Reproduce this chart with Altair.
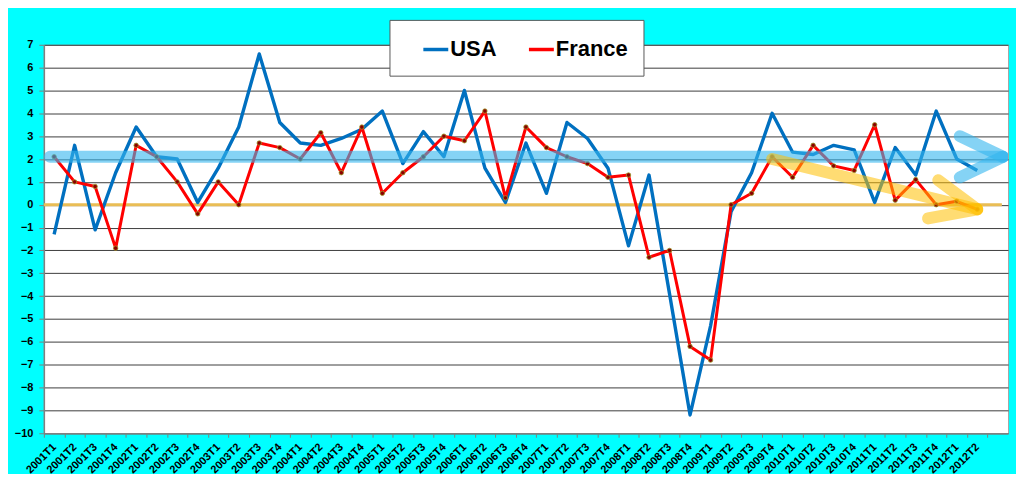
import json
import altair as alt
import pandas as pd

quarters = [
    "2001T1", "2001T2", "2001T3", "2001T4",
    "2002T1", "2002T2", "2002T3", "2002T4",
    "2003T1", "2003T2", "2003T3", "2003T4",
    "2004T1", "2004T2", "2004T3", "2004T4",
    "2005T1", "2005T2", "2005T3", "2005T4",
    "2006T1", "2006T2", "2006T3", "2006T4",
    "2007T1", "2007T2", "2007T3", "2007T4",
    "2008T1", "2008T2", "2008T3", "2008T4",
    "2009T1", "2009T2", "2009T3", "2009T4",
    "2010T1", "2010T2", "2010T3", "2010T4",
    "2011T1", "2011T2", "2011T3", "2011T4",
    "2012T1", "2012T2",
]

usa = [
    -1.3, 2.6, -1.1, 1.4,
    3.4, 2.1, 2.0, 0.1,
    1.6, 3.4, 6.6, 3.6,
    2.7, 2.6, 2.9, 3.3,
    4.1, 1.8, 3.2, 2.1,
    5.0, 1.6, 0.1, 2.7,
    0.5, 3.6, 2.9, 1.6,
    -1.8, 1.3, -3.9, -9.2,
    -5.3, -0.3, 1.4, 4.0,
    2.3, 2.2, 2.6, 2.4,
    0.1, 2.5, 1.3, 4.1,
    2.0, 1.5,
]

france = [
    2.1, 1.0, 0.8, -1.9,
    2.6, 2.1, 1.0, -0.4,
    1.0, 0.0, 2.7, 2.5,
    2.0, 3.15, 1.4, 3.4,
    0.5, 1.4, 2.1, 3.0,
    2.8, 4.1, 0.3, 3.4,
    2.5, 2.1, 1.8, 1.2,
    1.3, -2.3, -2.0, -6.2,
    -6.8, 0.0, 0.5, 2.1,
    1.2, 2.6, 1.7, 1.5,
    3.5, 0.2, 1.1, 0.0,
    0.15, -0.2,
]

series_names = ["USA", "France"]
series_colors = ["#0070C0", "#FF0000"]
y_ticks = list(range(-10, 8))

# hand-drawn annotations (in quarter-index / value units)
blue_arrow_seg = [0, 0, 1, 1, 2, 2]
blue_arrow_x = [-0.2, 46.25, 44.15, 46.25, 44.15, 46.25]
blue_arrow_y = [2.1, 2.1, 3.0, 2.1, 1.2, 2.1]

yellow_arrow_seg = [0, 0, 1, 1, 2, 2]
yellow_arrow_x = [35.0, 45.0, 43.1, 45.0, 42.6, 45.0]
yellow_arrow_y = [2.0, -0.2, 1.07, -0.2, -0.6, -0.2]

zero_line_x = [-0.5, 46.2]
zero_line_y = [0, 0]

n_cat = len(quarters) + 1  # one empty category at the end

df_usa = pd.DataFrame({"idx": list(range(len(usa))), "value": usa, "series": "USA"})
df_fr = pd.DataFrame({"idx": list(range(len(france))), "value": france, "series": "France"})
df_blue = pd.DataFrame({"idx": blue_arrow_x, "value": blue_arrow_y, "seg": blue_arrow_seg,
                        "ord": list(range(len(blue_arrow_x)))})
df_yel = pd.DataFrame({"idx": yellow_arrow_x, "value": yellow_arrow_y, "seg": yellow_arrow_seg,
                       "ord": list(range(len(yellow_arrow_x)))})
df_zero = pd.DataFrame({"idx": zero_line_x, "value": zero_line_y})

FONT = "Liberation Sans"
W, H = 968, 390
band_px = W / n_cat

xscale = alt.Scale(domain=[-0.5, n_cat - 0.5], nice=False, zero=False)
yscale = alt.Scale(domain=[-10, 7], nice=False, zero=False)

label_js = json.dumps(quarters)
x_axis = alt.Axis(
    values=[i - 0.5 for i in range(n_cat)],
    labelExpr=f"datum.value < {len(quarters) - 1} ? {label_js}[round(datum.value + 0.5)] : ''",
    labelAngle=315, labelAlign="right", labelBaseline="middle",
    labelOffset=band_px / 2, labelPadding=8, labelFlush=False, labelOverlap=False,
    labelFont=FONT, labelFontSize=11, labelFontWeight="bold", labelColor="black",
    tickSize=4, tickColor="#808080", domainColor="#808080", domainWidth=1.5,
    grid=False, title=None,
)
y_axis = alt.Axis(
    values=y_ticks, grid=True, gridColor="#3C3C3C", gridWidth=1,
    tickSize=5, tickColor="#808080", domainColor="#808080", domainWidth=1.5,
    labelFont=FONT, labelFontSize=11, labelFontWeight="bold", labelColor="black",
    labelPadding=6, title=None,
)

X = alt.X("idx:Q", scale=xscale, axis=x_axis)
Y = alt.Y("value:Q", scale=yscale, axis=y_axis)

legend = alt.Legend(
    orient="none", legendX=347, legendY=-25, direction="horizontal", title=None,
    fillColor="white", strokeColor="#595959", padding=15,
    symbolType="stroke", symbolSize=625, symbolStrokeWidth=3.5,
    symbolOffset=17, labelOffset=0, columnPadding=13,
    labelFont=FONT, labelFontSize=22, labelFontWeight="bold", labelColor="black",
)
color = alt.Color("series:N", scale=alt.Scale(domain=series_names, range=series_colors),
                  legend=legend)

zero_line = alt.Chart(df_zero).mark_line(color="#E9BD55", strokeWidth=3).encode(x=X, y=Y)

usa_line = alt.Chart(df_usa).mark_line(strokeWidth=3.4, strokeJoin="round").encode(
    x=X, y=Y, color=color)
fr_line = alt.Chart(df_fr).mark_line(strokeWidth=3, strokeJoin="round").encode(
    x=X, y=Y, color=color)
fr_points = alt.Chart(df_fr).mark_point(
    shape="circle", filled=True, color="#8B0000", stroke="#9C9C2A",
    strokeWidth=0.8, size=20, opacity=1).encode(x=X, y=Y)

blue_arrow = alt.Chart(df_blue).mark_line(
    color="#33B5EE", opacity=0.6, strokeWidth=12, strokeCap="round",
    strokeJoin="round", clip=True).encode(
    x=X, y=Y, detail="seg:N", order="ord:Q")
yellow_arrow = alt.Chart(df_yel).mark_line(
    color="#FFC000", opacity=0.55, strokeWidth=12, strokeCap="round",
    strokeJoin="round").encode(
    x=X, y=Y, detail="seg:N", order="ord:Q")

chart = alt.layer(
    zero_line, usa_line, fr_line, fr_points, blue_arrow, yellow_arrow
).properties(
    width=W, height=H, background="#00FFFF",
    padding={"left": 36, "top": 36, "right": 8, "bottom": 40},
    autosize=alt.AutoSizeParams(type="none"),
).configure_view(fill="white", stroke="#A6A6A6", strokeWidth=1)

chart.save("out.html", embed_options={"renderer": "svg", "actions": False})
